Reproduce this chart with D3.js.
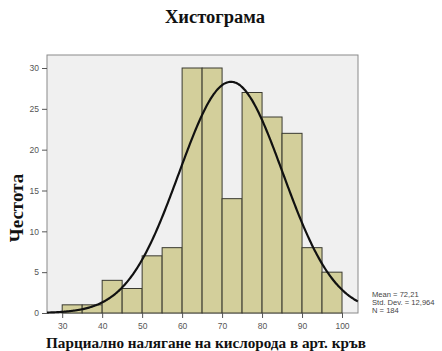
<!DOCTYPE html>
<html>
<head>
<meta charset="utf-8">
<script src="https://cdn.jsdelivr.net/npm/d3@7"></script>
<style>
  html, body { margin: 0; padding: 0; background: #fff; }
  svg { display: block; }
</style>
</head>
<body>
<svg id="chart" width="442" height="351"></svg>
<script>
// Histogram bins (lower edge, width 5) and their counts
const binStarts = [30, 35, 40, 45, 50, 55, 60, 65, 70, 75, 80, 85, 90, 95];
const binWidth = 5;
const counts = [1, 1, 4, 3, 7, 8, 30, 30, 14, 27, 24, 22, 8, 5];
const xTicks = [30, 40, 50, 60, 70, 80, 90, 100];
const yTicks = [0, 5, 10, 15, 20, 25, 30];
const stats = { mean: 72.21, sd: 12.964, n: 184 };
const statLines = ["Mean = 72,21", "Std. Dev. = 12,964", "N = 184"];

const svg = d3.select("#chart");
const plot = { left: 47, right: 358, top: 55, bottom: 313 };

const x = d3.scaleLinear().domain([26.2, 104]).range([plot.left, plot.right]);
const y = d3.scaleLinear().domain([0, 30]).range([plot.bottom, 68]);

// plot background
svg.append("rect")
  .attr("x", plot.left).attr("y", plot.top)
  .attr("width", plot.right - plot.left).attr("height", plot.bottom - plot.top)
  .attr("fill", "#f0f0f0").attr("stroke", "#8a8a8a").attr("stroke-width", 1);

// bars
svg.append("g").selectAll("rect")
  .data(binStarts.map((s, i) => ({ s, c: counts[i] })))
  .join("rect")
  .attr("x", d => x(d.s))
  .attr("y", d => y(d.c))
  .attr("width", d => x(d.s + binWidth) - x(d.s))
  .attr("height", d => y(0) - y(d.c))
  .attr("fill", "#d3cf9b")
  .attr("stroke", "#3a3a30")
  .attr("stroke-width", 1);

// normal curve scaled to counts
const pdf = v => stats.n * binWidth / (stats.sd * Math.sqrt(2 * Math.PI)) *
  Math.exp(-0.5 * Math.pow((v - stats.mean) / stats.sd, 2));
const curveX = d3.range(26.2, 104.01, 0.25);
svg.append("path")
  .datum(curveX)
  .attr("fill", "none")
  .attr("stroke", "#111")
  .attr("stroke-width", 2.2)
  .attr("d", d3.line().x(d => x(d)).y(d => y(pdf(d))).curve(d3.curveBasis));

// axes
const axisFont = "Arial, 'Liberation Sans', sans-serif";
const yAxis = svg.append("g")
  .attr("transform", `translate(${plot.left},0)`)
  .call(d3.axisLeft(y).tickValues(yTicks).tickSize(5).tickPadding(3));
const xAxis = svg.append("g")
  .attr("transform", `translate(0,${plot.bottom})`)
  .call(d3.axisBottom(x).tickValues(xTicks).tickSize(5).tickPadding(5));
[xAxis, yAxis].forEach(a => {
  a.select(".domain").remove();
  a.selectAll("line").attr("stroke", "#555");
  a.selectAll("text").attr("fill", "#555")
    .style("font-family", axisFont).style("font-size", "8.5px");
});

// titles
const serif = "'Liberation Serif', 'Times New Roman', serif";
svg.append("text")
  .attr("x", 215).attr("y", 23)
  .attr("text-anchor", "middle")
  .style("font-family", serif).style("font-weight", "bold").style("font-size", "18.5px")
  .attr("fill", "#111")
  .text("Хистограма");

svg.append("text")
  .attr("transform", "translate(23,208) rotate(-90)")
  .attr("text-anchor", "middle")
  .style("font-family", serif).style("font-weight", "bold").style("font-size", "19px")
  .attr("fill", "#111")
  .text("Честота");

svg.append("text")
  .attr("x", 206).attr("y", 348)
  .attr("text-anchor", "middle")
  .style("font-family", serif).style("font-weight", "bold").style("font-size", "15.2px")
  .attr("fill", "#111")
  .text("Парциално налягане на кислорода в арт. кръв");

// summary statistics
svg.append("g").selectAll("text")
  .data(statLines)
  .join("text")
  .attr("x", 372)
  .attr("y", (d, i) => 297 + i * 8)
  .style("font-family", axisFont).style("font-size", "7.6px")
  .attr("fill", "#444")
  .text(d => d);
</script>
</body>
</html>
